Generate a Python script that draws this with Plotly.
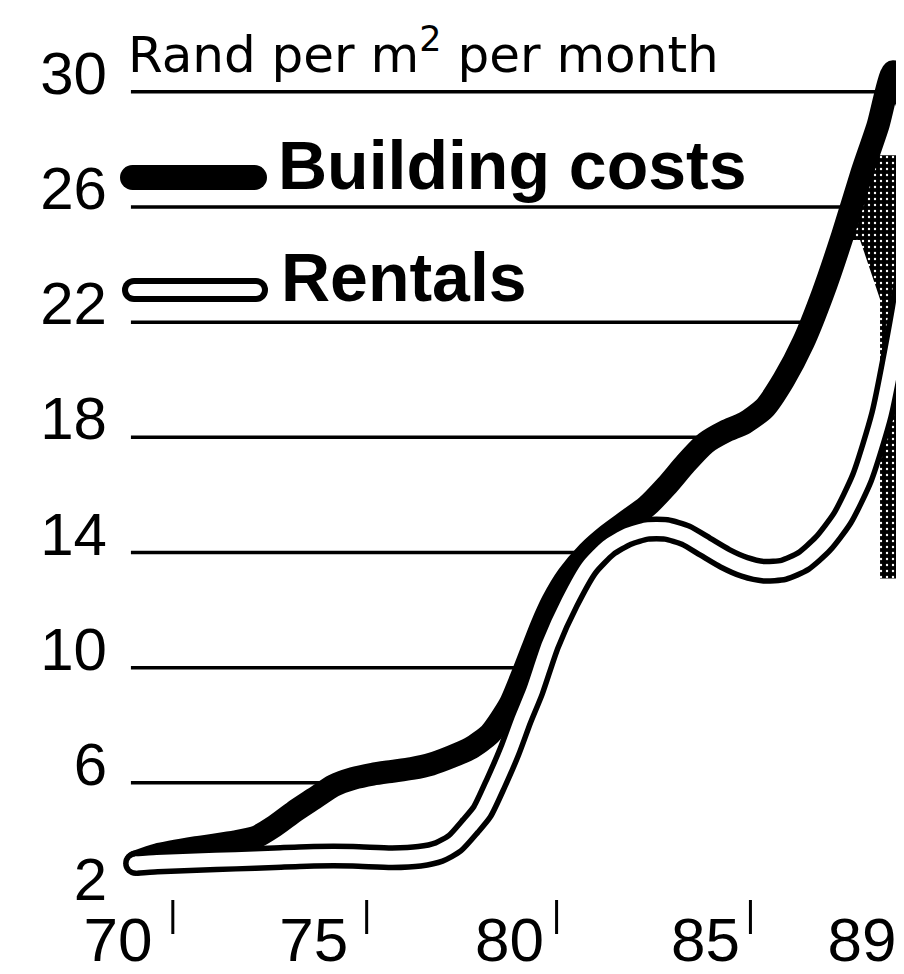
import plotly.graph_objects as go

# ---------------- data ----------------
bc_years = [70.45, 71.0, 72.0, 73.0, 73.5, 74.0, 74.5, 75.0, 75.5, 76.0, 76.5, 77.0, 77.5,
            78.0, 78.5, 79.0, 79.5, 80.0, 80.4, 80.8, 81.1, 81.5, 82.0, 82.5, 83.0, 83.5,
            84.0, 84.5, 85.0, 85.5, 86.0, 86.5, 87.0, 87.5, 88.0, 88.5, 89.0, 89.4, 89.8, 90.3]
building_costs = [3.25, 3.5, 3.75, 3.95, 4.1, 4.5, 5.0, 5.45, 5.9, 6.15, 6.3, 6.4, 6.5,
                  6.65, 6.9, 7.2, 7.7, 8.7, 10.0, 11.4, 12.3, 13.2, 14.0, 14.6, 15.1, 15.6,
                  16.3, 17.1, 17.8, 18.2, 18.5, 19.0, 20.0, 21.3, 23.0, 25.0, 27.2, 28.8, 30.7, 29.0]

rent_years = [70.45, 71.0, 72.0, 73.0, 74.0, 75.0, 76.0, 77.0, 77.7, 78.2, 78.6, 79.0, 79.3,
              79.65, 80.0, 80.3, 80.6, 81.0, 81.5, 82.0, 82.5, 83.0, 83.5, 84.0, 84.5, 85.0,
              85.5, 86.0, 86.5, 87.0, 87.5, 88.0, 88.5, 89.0, 89.5, 90.0, 90.3]
rentals = [3.2, 3.25, 3.3, 3.35, 3.4, 3.45, 3.45, 3.4, 3.45, 3.6, 3.9, 4.5, 5.0,
           6.0, 7.1, 8.2, 9.2, 10.8, 12.3, 13.5, 14.2, 14.6, 14.8, 14.8, 14.6, 14.2,
           13.8, 13.5, 13.35, 13.4, 13.7, 14.3, 15.2, 16.6, 18.8, 22.3, 25.0]

# shaded (stippled) patch at the right edge
shade_x = [89.3, 90.3, 90.3, 89.46, 89.46, 88.95, 88.5, 89.3]
shade_y = [27.8, 27.8, 13.1, 13.1, 22.8, 24.85, 24.85, 27.8]

y_ticks = [2, 6, 10, 14, 18, 22, 26, 30]
grid_values = [6, 10, 14, 18, 22, 26, 30]
x_tickvals = [70, 75, 80, 85, 89]
x_ticktext = ["70", "75", "80", "85", "89"]
x_minor_marks = [71.4, 76.35, 81.2, 86.15]

title_text = "Rand per m<sup>2</sup> per month"
series_names = ["Building costs", "Rentals"]

# ---------------- layout helpers ----------------
# the page body has an 8px margin, so the figure is drawn 8px smaller and
# every screen-pixel target is converted with that offset.
OFF = 8
W, H = 904 - OFF, 974 - OFF
ML, MR, MT, MB = 116 - OFF, 0, 40 - OFF, 974 - 898
PW, PH = W - ML - MR, H - MT - MB
X0 = 70 + (116 - 118) / 39.16
X1 = X0 + PW / 39.16


def px2x(sx):
    return (sx - OFF - ML) / PW


def py2y(sy):
    return (H - MB - (sy - OFF)) / PH


def cap_sizes(n, s):
    return [s] + [0] * (n - 1)


fig = go.Figure()

# white fill under building costs (hides gridlines to the right of the curve)
fig.add_trace(go.Scatter(x=bc_years, y=building_costs, mode="lines", fill="tozeroy",
                         fillcolor="white", line=dict(width=0, color="white", shape="spline", smoothing=0.6),
                         hoverinfo="skip"))

# stippled patch
fig.add_trace(go.Scatter(x=shade_x, y=shade_y, mode="lines", fill="toself",
                         fillcolor="black",
                         fillpattern=dict(shape=".", bgcolor="black", fgcolor="white", size=6, solidity=0.12),
                         line=dict(width=0, color="black"), hoverinfo="skip"))

# building costs line
fig.add_trace(go.Scatter(x=bc_years, y=building_costs, mode="lines+markers", name=series_names[0],
                         line=dict(width=23, color="black", shape="spline", smoothing=0.6),
                         marker=dict(size=cap_sizes(len(bc_years), 23), color="black", opacity=1, line=dict(width=0))))

# rentals: outlined white line
fig.add_trace(go.Scatter(x=rent_years, y=rentals, mode="lines+markers", name=series_names[1],
                         line=dict(width=25, color="black", shape="spline", smoothing=0.6),
                         marker=dict(size=cap_sizes(len(rent_years), 25), color="black", opacity=1, line=dict(width=0))))
fig.add_trace(go.Scatter(x=rent_years, y=rentals, mode="lines+markers", showlegend=False,
                         line=dict(width=14, color="white", shape="spline", smoothing=0.6),
                         marker=dict(size=cap_sizes(len(rent_years), 14), color="white", opacity=1, line=dict(width=0))))

shapes = []
for v in grid_values:
    shapes.append(dict(type="line", xref="x", yref="y", x0=70.33, x1=91, y0=v, y1=v,
                       line=dict(color="black", width=3.5), layer="below"))
for t in x_minor_marks:
    shapes.append(dict(type="line", xref="x", yref="paper", x0=t, x1=t, y0=py2y(900), y1=py2y(934),
                       line=dict(color="black", width=3)))


def stadium(x0, x1, y0, y1, color):
    r = (y1 - y0) / 2
    out = [dict(type="rect", xref="paper", yref="paper", x0=px2x(x0 + r), x1=px2x(x1 - r),
                y0=py2y(y1), y1=py2y(y0), fillcolor=color, line=dict(width=0)),
           dict(type="circle", xref="paper", yref="paper", x0=px2x(x0), x1=px2x(x0 + 2 * r),
                y0=py2y(y1), y1=py2y(y0), fillcolor=color, line=dict(width=0)),
           dict(type="circle", xref="paper", yref="paper", x0=px2x(x1 - 2 * r), x1=px2x(x1),
                y0=py2y(y1), y1=py2y(y0), fillcolor=color, line=dict(width=0))]
    return out


shapes += stadium(120, 267, 165, 190, "black")
shapes += stadium(122, 268, 278, 302, "black")
shapes += stadium(128, 262, 284, 296, "white")

legend_font = dict(family="Liberation Sans", size=68, color="black", weight="bold")
annotations = [
    dict(text=title_text, xref="paper", yref="paper", x=px2x(126), y=py2y(52),
         xanchor="left", yanchor="middle", showarrow=False,
         font=dict(family="DejaVu Sans", size=50, color="black")),
    dict(text=series_names[0], xref="paper", yref="paper", x=px2x(276), y=py2y(165),
         xanchor="left", yanchor="middle", showarrow=False, font=legend_font),
    dict(text=series_names[1], xref="paper", yref="paper", x=px2x(279), y=py2y(277),
         xanchor="left", yanchor="middle", showarrow=False, font=legend_font),
]

fig.update_layout(
    template="none",
    width=W, height=H,
    margin=dict(l=ML, r=MR, t=MT, b=MB, pad=0, autoexpand=False),
    paper_bgcolor="white", plot_bgcolor="white",
    showlegend=False,
    shapes=shapes, annotations=annotations,
    xaxis=dict(range=[X0, X1], tickvals=x_tickvals, ticktext=x_ticktext, automargin=False,
               showgrid=False, zeroline=False, showline=False, ticks="",
               tickfont=dict(family="Liberation Sans", size=62, color="black")),
    yaxis=dict(range=[2, 31.8], tickvals=y_ticks, showgrid=False, zeroline=False, automargin=False,
               showline=False, ticks="", ticklabelshift=-19, ticklabelstandoff=8,
               tickfont=dict(family="Liberation Sans", size=60, color="black")),
)

fig.write_html("out.html")
